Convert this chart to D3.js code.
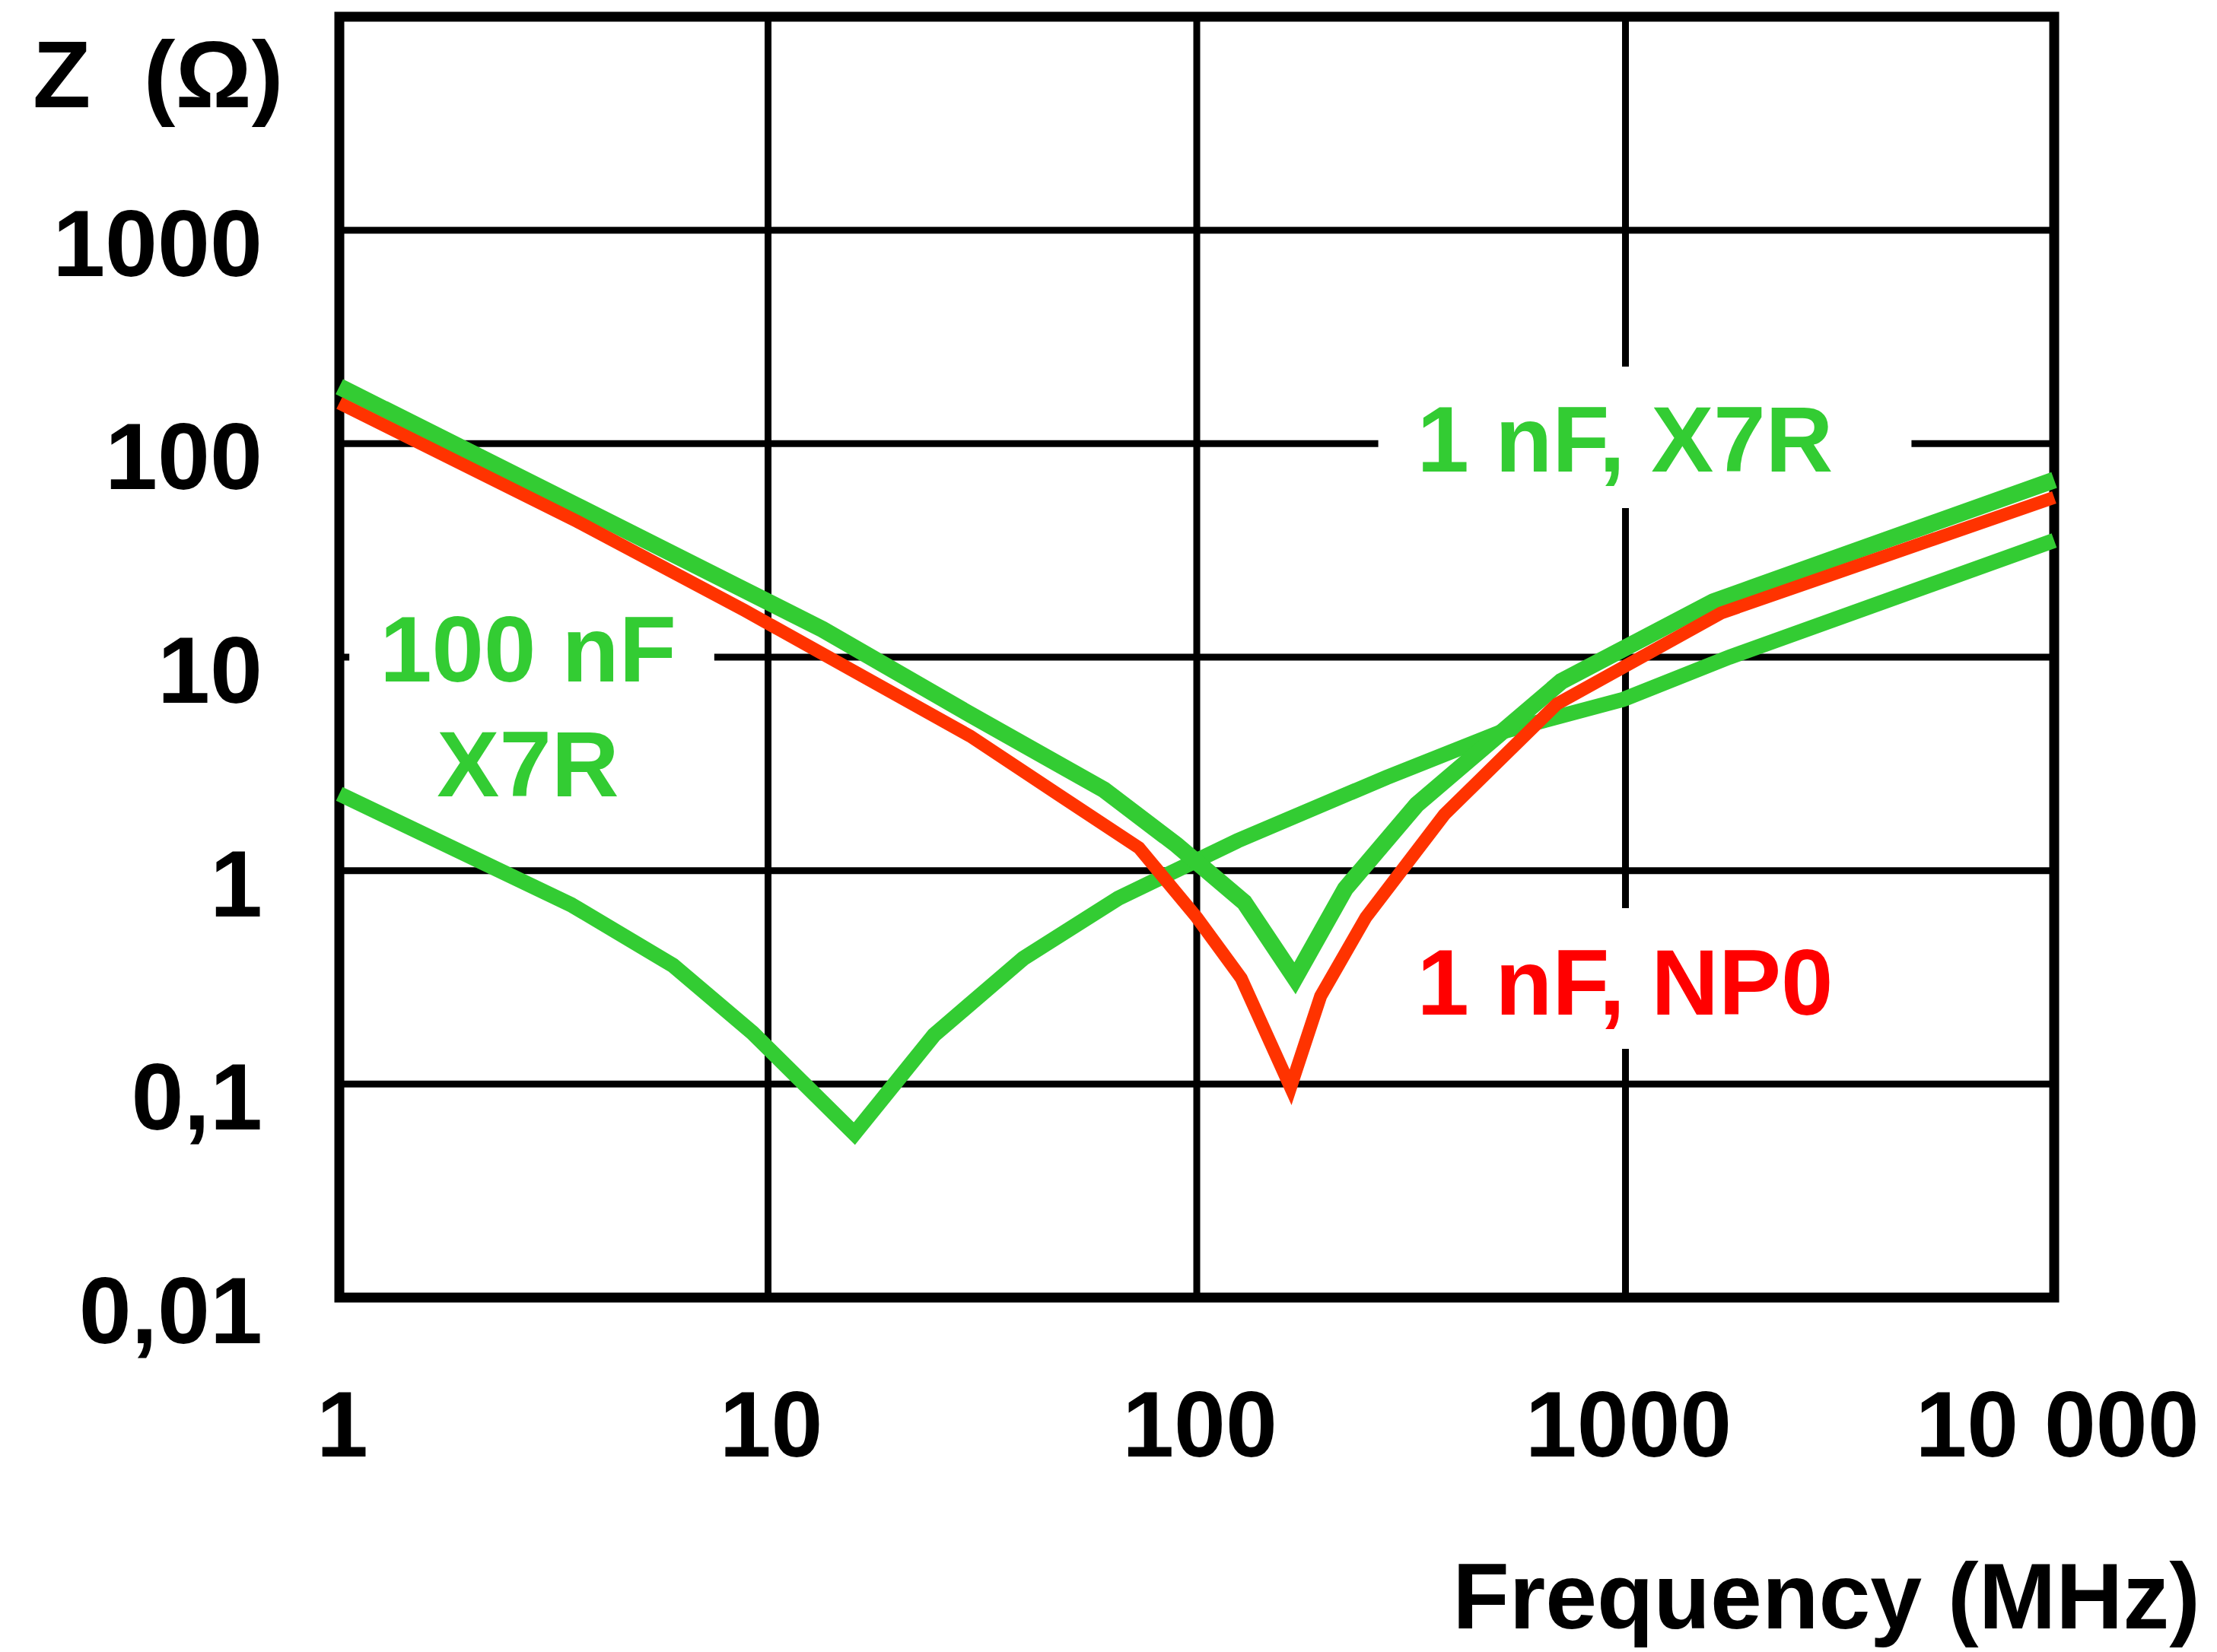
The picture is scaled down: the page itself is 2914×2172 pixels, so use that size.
<!DOCTYPE html>
<html>
<head>
<meta charset="utf-8">
<script src="https://cdn.jsdelivr.net/npm/d3@7"></script>
<style>
  html, body { margin: 0; padding: 0; background: #ffffff; }
  svg { display: block; }
  text { font-family: "Liberation Sans", Arial, Helvetica, sans-serif; font-weight: bold; }
</style>
</head>
<body>
<script>
// ---------- data ----------
const xTicks = [1, 10, 100, 1000, 10000];
const xTickLabels = ["1", "10", "100", "1000", "10 000"];
const yTicks = [0.01, 0.1, 1, 10, 100, 1000];
const yTickLabels = ["0,01", "0,1", "1", "10", "100", "1000"];
const xGrid = [10, 100, 1000];
const yGrid = [0.1, 1, 10, 100, 1000];

// 100 nF, X7R
const f100nX7R = [1, 3.47, 6.0, 9.2, 15.9, 24.4, 39.4, 65.6, 124.5, 277, 509, 988, 1746, 10000];
const z100nX7R = [2.29, 0.693, 0.36, 0.174, 0.0586, 0.170, 0.388, 0.742, 1.38, 2.73, 4.44, 6.34, 10.0, 35.2];

// 1 nF, X7R
const f1nX7R = [1, 3.64, 13.4, 29.6, 60.8, 89.7, 129, 169.5, 222, 326, 708, 1602, 10000];
const z1nX7R = [185, 50.4, 13.5, 5.39, 2.39, 1.32, 0.711, 0.313, 0.822, 2.04, 7.69, 18.2, 67.6];

// 1 nF, NP0
const f1nNP0 = [1, 3.59, 8.8, 29.6, 47.9, 73.3, 100, 127, 165.5, 194.5, 248, 378, 693, 1670, 10000];
const z1nNP0 = [155, 43.2, 16.6, 4.27, 2.25, 1.28, 0.604, 0.313, 0.0966, 0.258, 0.604, 1.83, 6.05, 16.1, 56.0];

const GREEN = "#33cc33";
const RED_LINE = "#ff3300";
const RED_TEXT = "#ff0000";

// ---------- layout ----------
const W = 2914, H = 2172;
const L = 446, R = 2700, T = 22, B = 1706;

const svg = d3.select("body").append("svg").attr("width", W).attr("height", H);
svg.append("rect").attr("width", W).attr("height", H).attr("fill", "#fff");

const x = d3.scaleLog().domain([1, 10000]).range([L, R]);
const y = d3.scaleLog().domain([0.01, 10000]).range([B, T]);

// grid
const grid = svg.append("g").attr("stroke", "#000").attr("stroke-width", 9);
grid.selectAll("line.h").data(yGrid).enter().append("line")
  .attr("x1", L).attr("x2", R).attr("y1", d => y(d)).attr("y2", d => y(d));
grid.selectAll("line.v").data(xGrid).enter().append("line")
  .attr("y1", T).attr("y2", B).attr("x1", d => x(d)).attr("x2", d => x(d));

// frame
svg.append("rect").attr("x", L).attr("y", T).attr("width", R - L).attr("height", B - T)
  .attr("fill", "none").attr("stroke", "#000").attr("stroke-width", 13);

// series labels (background boxes cut the grid)
const labels = [
  { lines: ["100 nF", "X7R"], cx: 694, base: 896, lh: 151, color: GREEN, pad: [48, 40, 50, 50] },
  { lines: ["1 nF, X7R"], cx: 2136, base: 620, lh: 0, color: GREEN, pad: [48, 51, 48, 103] },
  { lines: ["1 nF, NP0"], cx: 2136, base: 1334, lh: 0, color: RED_TEXT, pad: [50, 50, 45, 50] }
];
const bgLayer = svg.append("g");
const lineLayer = svg.append("g");
const textLayer = svg.append("g");

labels.forEach(lb => {
  const t = textLayer.append("text")
    .attr("text-anchor", "middle")
    .attr("font-size", 123)
    .attr("fill", lb.color);
  lb.lines.forEach((s, i) => {
    t.append("tspan").attr("x", lb.cx).attr("y", lb.base + i * lb.lh).text(s);
  });
  const bb = t.node().getBBox();
  const capTop = lb.base - 90;
  const bottom = lb.base + (lb.lines.length - 1) * lb.lh;
  bgLayer.append("rect")
    .attr("x", bb.x - lb.pad[1])
    .attr("y", capTop - lb.pad[0])
    .attr("width", bb.width + lb.pad[1] + lb.pad[3])
    .attr("height", bottom - capTop + lb.pad[0] + lb.pad[2])
    .attr("fill", "#fff");
});

// curves
const line = d3.line().x(d => x(d[0])).y(d => y(d[1]));
const series = [
  { f: f100nX7R, z: z100nX7R, color: GREEN, w: 20 },
  { f: f1nX7R, z: z1nX7R, color: GREEN, w: 22 },
  { f: f1nNP0, z: z1nNP0, color: RED_LINE, w: 17 }
];
series.forEach(s => {
  lineLayer.append("path")
    .datum(d3.zip(s.f, s.z))
    .attr("d", line)
    .attr("fill", "none")
    .attr("stroke", s.color)
    .attr("stroke-width", s.w)
    .attr("stroke-linejoin", "miter")
    .attr("stroke-linecap", "butt");
});

// y tick labels
svg.append("g").selectAll("text").data(yTicks).enter().append("text")
  .attr("x", 345)
  .attr("y", d => y(d) + 60)
  .attr("text-anchor", "end")
  .attr("font-size", 124)
  .attr("fill", "#000")
  .text((d, i) => yTickLabels[i]);

// x tick labels
svg.append("g").selectAll("text").data(xTicks).enter().append("text")
  .attr("x", d => x(d) + 4)
  .attr("y", 1915)
  .attr("text-anchor", "middle")
  .attr("font-size", 122)
  .attr("fill", "#000")
  .text((d, i) => xTickLabels[i]);

// axis titles
svg.append("text").attr("x", 43).attr("y", 141).attr("font-size", 125).attr("fill", "#000")
  .attr("xml:space", "preserve").style("white-space", "pre").text("Z  (Ω)");
svg.append("text").attr("x", 2892).attr("y", 2141).attr("text-anchor", "end")
  .attr("font-size", 122).attr("fill", "#000").text("Frequency (MHz)");
</script>
</body>
</html>
